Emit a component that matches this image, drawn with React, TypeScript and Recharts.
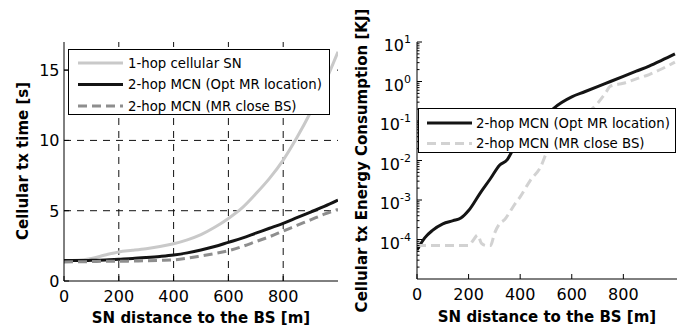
import React from 'react';
import { LineChart, Line, XAxis, YAxis, ReferenceLine, Legend } from 'recharts';

// ---------- data ----------
const distance = [0, 50, 100, 150, 200, 250, 300, 350, 400, 450, 500, 550, 600, 650, 700, 750, 800, 850, 900, 950, 1000];
const oneHopTime = [1.45, 1.47, 1.6, 1.85, 2.07, 2.18, 2.3, 2.45, 2.65, 2.93, 3.3, 3.82, 4.45, 5.2, 6.2, 7.3, 8.6, 10.2, 12.0, 14.0, 16.3];
const optMrTime = [1.45, 1.45, 1.47, 1.5, 1.55, 1.6, 1.67, 1.75, 1.85, 2.0, 2.2, 2.45, 2.75, 3.05, 3.4, 3.75, 4.1, 4.5, 4.9, 5.3, 5.75];
const closeBsTime = [1.35, 1.37, 1.38, 1.4, 1.4, 1.42, 1.44, 1.47, 1.5, 1.62, 1.78, 1.95, 2.15, 2.45, 2.8, 3.15, 3.55, 3.95, 4.35, 4.75, 5.1];

const optMrEnergyDist = [0, 30, 60, 100, 140, 170, 200, 245, 285, 320, 350, 370, 400, 450, 500, 530, 600, 650, 700, 750, 800, 850, 900, 950, 1000];
const optMrEnergy = [5.4e-5, 1.1e-4, 1.7e-4, 2.5e-4, 3.0e-4, 3.5e-4, 5.4e-4, 1.5e-3, 3.5e-3, 7.6e-3, 1.05e-2, 1.75e-2, 2.8e-2, 6.2e-2, 0.135, 0.21, 0.41, 0.55, 0.74, 1.0, 1.35, 1.82, 2.45, 3.47, 5.0];

const closeBsEnergyDist = [0, 50, 100, 150, 200, 220, 235, 250, 270, 285, 300, 320, 340, 360, 380, 400, 440, 480, 500, 550, 600, 650, 700, 730, 750, 800, 850, 900, 950, 1000];
const closeBsEnergy = [7e-5, 7e-5, 7e-5, 7e-5, 7e-5, 1.0e-4, 1.3e-4, 8e-5, 7e-5, 7e-5, 1.4e-4, 2.5e-4, 3.2e-4, 5e-4, 8e-4, 1.2e-3, 3.2e-3, 7e-3, 1.45e-2, 3.1e-2, 6.5e-2, 0.138, 0.28, 0.5, 0.76, 0.9, 1.17, 1.5, 2.1, 3.1];

const leftXTicks = [0, 200, 400, 600, 800];
const leftYTicks = [0, 5, 10, 15];
const leftXGrid = [200, 400, 600, 800];
const leftYGrid = [5, 10, 15];
const rightXTicks = [0, 200, 400, 600, 800];
const rightYMajor = [1e-4, 1e-3, 1e-2, 1e-1, 1, 10];
const rightYExponents = ['-4', '-3', '-2', '-1', '0', '1'];
const rightYMinor = [
  2e-5, 3e-5, 4e-5, 5e-5, 6e-5, 7e-5, 8e-5, 9e-5,
  2e-4, 3e-4, 4e-4, 5e-4, 6e-4, 7e-4, 8e-4, 9e-4,
  2e-3, 3e-3, 4e-3, 5e-3, 6e-3, 7e-3, 8e-3, 9e-3,
  2e-2, 3e-2, 4e-2, 5e-2, 6e-2, 7e-2, 8e-2, 9e-2,
  0.2, 0.3, 0.4, 0.5, 0.6, 0.7, 0.8, 0.9,
  2, 3, 4, 5, 6, 7, 8, 9,
];

const leftLegend = ['1-hop cellular SN', '2-hop MCN (Opt MR location)', '2-hop MCN (MR close BS)'];
const rightLegend = ['2-hop MCN (Opt MR location)', '2-hop MCN (MR close BS)'];

const xTitle = 'SN distance to the BS [m]';
const leftYTitle = 'Cellular tx time [s]';
const rightYTitle = 'Cellular tx Energy Consumption [KJ]';

// ---------- styles ----------
const FONT = '"DejaVu Sans", sans-serif';
const C_ONEHOP = '#c9c9c9';
const C_OPT = '#141414';
const C_CLOSE_L = '#8e8e8e';
const C_CLOSE_R = '#d2d2d2';

const leftData = distance.map((d, i) => ({ d, oneHop: oneHopTime[i], opt: optMrTime[i], close: closeBsTime[i] }));
const rightOptData = optMrEnergyDist.map((d, i) => ({ d, v: optMrEnergy[i] }));
const rightCloseData = closeBsEnergyDist.map((d, i) => ({ d, v: closeBsEnergy[i] }));

// ---------- tick renderers ----------
const BottomTick = (p: any) => {
  const { x, y, payload, label, lift } = p;
  return (
    <g>
      <line x1={x} x2={x} y1={y} y2={y - 5} stroke="#000" />
      {label && (
        <text x={x} y={y + (lift ?? 21)} textAnchor="middle" fontSize={16} fontFamily={FONT} fill="#000">
          {payload.value}
        </text>
      )}
    </g>
  );
};
const TopTick = (p: any) => {
  const { x, y } = p;
  return <line x1={x} x2={x} y1={y} y2={y + 5} stroke="#000" />;
};
const LeftLinTick = (p: any) => {
  const { x, y, payload } = p;
  return (
    <g>
      <line x1={x} x2={x + 5} y1={y} y2={y} stroke="#000" />
      <text x={x - 4.5} y={y + 5.8} textAnchor="end" fontSize={16} fontFamily={FONT} fill="#000">
        {payload.value}
      </text>
    </g>
  );
};
const RightLinTick = (p: any) => {
  const { x, y } = p;
  return <line x1={x} x2={x - 5} y1={y} y2={y} stroke="#000" />;
};
const LeftLogTick = (p: any) => {
  const { x, y, payload } = p;
  const idx = rightYMajor.indexOf(payload.value);
  const major = idx >= 0;
  return (
    <g>
      <line x1={x} x2={x + (major ? 5 : 2.5)} y1={y} y2={y} stroke="#000" />
      {major && (
        <text x={x - 6} y={y + 9} textAnchor="end" fontSize={16} fontFamily={FONT} fill="#000">
          10
          <tspan dy={-8} fontSize={11}>{rightYExponents[idx]}</tspan>
        </text>
      )}
    </g>
  );
};
const RightLogTick = (p: any) => {
  const { x, y, payload } = p;
  const major = rightYMajor.indexOf(payload.value) >= 0;
  return <line x1={x} x2={x - (major ? 5 : 2.5)} y1={y} y2={y} stroke="#000" />;
};

// ---------- legend ----------
type LegendItem = { label: string; color: string; dash?: string };
const LegendBox = ({ items, width, height, rows, sx, tx }: { items: LegendItem[]; width: number; height: number; rows: number[]; sx: [number, number]; tx: number }) => (
  <svg width={width} height={height} style={{ display: 'block' }}>
    <rect x={0.5} y={0.5} width={width - 1} height={height - 1} fill="#fff" stroke="#000" strokeWidth={1} />
    {items.map((it, i) => (
      <g key={it.label}>
        <line x1={sx[0]} x2={sx[1]} y1={rows[i]} y2={rows[i]} stroke={it.color} strokeWidth={3} strokeDasharray={it.dash} />
        <text x={tx} y={rows[i] + 4.8} fontSize={13.3} fontFamily={FONT} fill="#000">{it.label}</text>
      </g>
    ))}
  </svg>
);

const leftItems: LegendItem[] = [
  { label: leftLegend[0], color: C_ONEHOP },
  { label: leftLegend[1], color: C_OPT },
  { label: leftLegend[2], color: C_CLOSE_L, dash: '9 5' },
];
const rightItems: LegendItem[] = [
  { label: rightLegend[0], color: C_OPT },
  { label: rightLegend[1], color: C_CLOSE_R, dash: '9 5' },
];

const gridStyle = { stroke: '#111', strokeWidth: 1, strokeDasharray: '7 6' };

export default function App() {
  return (
    <div style={{ position: 'absolute', left: 0, top: 0, width: 687, height: 333, background: '#fff', overflow: 'hidden' }}>
      {/* Left chart */}
      <div style={{ position: 'absolute', left: 0, top: 0 }}>
        <LineChart width={345} height={333} data={leftData} margin={{ top: 42, right: 7, bottom: 0, left: 0 }}>
          <XAxis xAxisId="b" dataKey="d" type="number" domain={[0, 1000]} ticks={leftXTicks} interval={0}
            height={52} tickSize={0} tickMargin={0} tickLine={false} axisLine={{ stroke: '#000' }}
            tick={(p: any) => <BottomTick {...p} label lift={21} />} allowDataOverflow />
          <XAxis xAxisId="t" dataKey="d" type="number" orientation="top" domain={[0, 1000]} ticks={leftXTicks} interval={0}
            height={0} tickSize={0} tickMargin={0} tickLine={false} axisLine={{ stroke: '#000' }}
            tick={(p: any) => <TopTick {...p} />} allowDataOverflow />
          <YAxis yAxisId="l" type="number" domain={[0, 17]} ticks={leftYTicks} interval={0} width={64}
            tickSize={0} tickMargin={0} tickLine={false} axisLine={{ stroke: '#000' }}
            tick={(p: any) => <LeftLinTick {...p} />} allowDataOverflow />
          <YAxis yAxisId="r" orientation="right" type="number" domain={[0, 17]} ticks={leftYTicks} interval={0} width={0}
            tickSize={0} tickMargin={0} tickLine={false} axisLine={{ stroke: '#000' }}
            tick={(p: any) => <RightLinTick {...p} />} allowDataOverflow />
          {leftXGrid.map((v) => (
            <ReferenceLine key={`gx${v}`} xAxisId="b" yAxisId="l" x={v} {...gridStyle} />
          ))}
          {leftYGrid.map((v) => (
            <ReferenceLine key={`gy${v}`} xAxisId="b" yAxisId="l" y={v} {...gridStyle} />
          ))}
          <Line xAxisId="b" yAxisId="l" dataKey="oneHop" type="monotone" stroke={C_ONEHOP} strokeWidth={3} dot={false} activeDot={false} isAnimationActive={false} />
          <Line xAxisId="b" yAxisId="l" dataKey="opt" type="monotone" stroke={C_OPT} strokeWidth={3} dot={false} activeDot={false} isAnimationActive={false} />
          <Line xAxisId="b" yAxisId="l" dataKey="close" type="monotone" stroke={C_CLOSE_L} strokeWidth={3} strokeDasharray="9 5" dot={false} activeDot={false} isAnimationActive={false} />
          <Legend layout="vertical" align="center" verticalAlign="middle"
            wrapperStyle={{ left: 68, top: 49, width: 262, height: 66 }}
            content={() => <LegendBox items={leftItems} width={262} height={66} rows={[14, 35.5, 57]} sx={[10, 55]} tx={60} />} />
        </LineChart>
      </div>

      {/* Right chart */}
      <div style={{ position: 'absolute', left: 345, top: 0 }}>
        <LineChart width={342} height={333} margin={{ top: 42, right: 10, bottom: 0, left: 0 }}>
          <XAxis xAxisId="b" dataKey="d" type="number" domain={[0, 1008]} ticks={rightXTicks} interval={0}
            height={54} tickSize={0} tickMargin={0} tickLine={false} axisLine={{ stroke: '#000' }}
            tick={(p: any) => <BottomTick {...p} label lift={20.5} />} allowDataOverflow />
          <XAxis xAxisId="t" dataKey="d" type="number" orientation="top" domain={[0, 1008]} ticks={rightXTicks} interval={0}
            height={0} tickSize={0} tickMargin={0} tickLine={false} axisLine={{ stroke: '#000' }}
            tick={(p: any) => <TopTick {...p} />} allowDataOverflow />
          <YAxis yAxisId="l" dataKey="v" type="number" scale="log" domain={[1e-5, 10]} ticks={[...rightYMajor, ...rightYMinor]} interval={0} width={72}
            tickSize={0} tickMargin={0} tickLine={false} axisLine={{ stroke: '#000' }}
            tick={(p: any) => <LeftLogTick {...p} />} allowDataOverflow />
          <YAxis yAxisId="r" dataKey="v" orientation="right" type="number" scale="log" domain={[1e-5, 10]} ticks={[...rightYMajor, ...rightYMinor]} interval={0} width={0}
            tickSize={0} tickMargin={0} tickLine={false} axisLine={{ stroke: '#000' }}
            tick={(p: any) => <RightLogTick {...p} />} allowDataOverflow />
          <Line xAxisId="b" yAxisId="l" data={rightOptData} dataKey="v" type="monotone" stroke={C_OPT} strokeWidth={3} dot={false} activeDot={false} isAnimationActive={false} />
          <Line xAxisId="b" yAxisId="l" data={rightCloseData} dataKey="v" type="monotone" stroke={C_CLOSE_R} strokeWidth={3} strokeDasharray="9 5" dot={false} activeDot={false} isAnimationActive={false} />
          <Legend layout="vertical" align="center" verticalAlign="middle"
            wrapperStyle={{ left: 73, top: 108, width: 258, height: 45 }}
            content={() => <LegendBox items={rightItems} width={258} height={45} rows={[15, 35.5]} sx={[9, 54]} tx={58} />} />
        </LineChart>
      </div>

      {/* Axis titles */}
      <svg width={687} height={333} style={{ position: 'absolute', left: 0, top: 0, pointerEvents: 'none' }}>
        <text x={201} y={323} textAnchor="middle" fontSize={15} fontWeight="bold" fontFamily={FONT} fill="#000">{xTitle}</text>
        <text x={547} y={322} textAnchor="middle" fontSize={15} fontWeight="bold" fontFamily={FONT} fill="#000">{xTitle}</text>
        <text x={27.5} y={161} transform="rotate(-90 27.5 161)" textAnchor="middle" fontSize={15} fontWeight="bold" fontFamily={FONT} fill="#000">{leftYTitle}</text>
        <text x={367} y={160.5} transform="rotate(-90 367 160.5)" textAnchor="middle" fontSize={15} fontWeight="bold" fontFamily={FONT} fill="#000">{rightYTitle}</text>
      </svg>
    </div>
  );
}
